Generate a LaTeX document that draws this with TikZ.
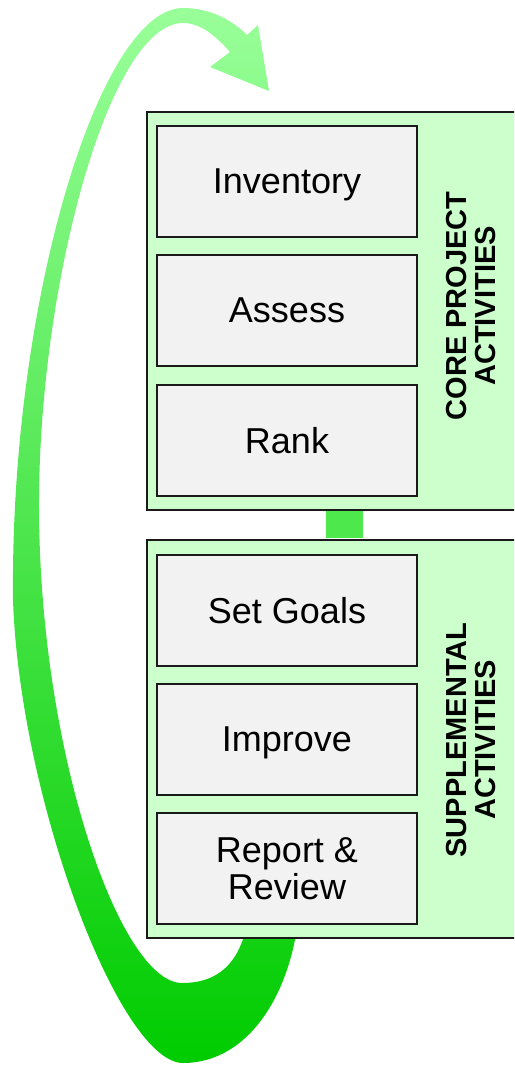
\documentclass[tikz,border=0pt]{standalone}
\usepackage{fontspec}
\setmainfont{Liberation Sans}
\definecolor{arrowtop}{HTML}{99FF99}
\definecolor{arrowbot}{HTML}{00CC00}
\definecolor{panelfill}{HTML}{CCFFCC}
\definecolor{boxfill}{HTML}{F2F2F2}
\definecolor{edge}{HTML}{1A1A1A}
\definecolor{linkgreen}{HTML}{4CE84C}
\tikzset{
  panel/.style={draw=edge, line width=1.6pt, fill=panelfill, inner sep=0pt,
    minimum width=384pt, minimum height=398pt, anchor=north west},
  stepbox/.style={draw=edge, line width=1.5pt, fill=boxfill, inner sep=0pt,
    minimum width=260pt, minimum height=111pt, align=center, text depth=0pt,
    font=\fontsize{36}{37}\selectfont},
  grouplabel/.style={rotate=90, align=center, inner sep=0pt,
    font=\fontsize{29}{29}\selectfont\bfseries},
  link/.style={draw=linkgreen, line width=37pt, shorten <=0.8pt, shorten >=0.8pt}
}
\begin{document}
\begin{tikzpicture}[x=1pt,y=-1pt]
\useasboundingbox (0,0) rectangle (514,1065);
\clip (0,0) rectangle (514,1065);
% curved return arrow
\shade[top color=arrowtop, bottom color=arrowbot]
  (300,900)
  .. controls (295,990) and (250,1063) .. (183,1063)
  .. controls (120,1063) and (20,800) .. (13,600)
  .. controls (10,300) and (100,8) .. (183,8)
  .. controls (210,8) and (232,20) .. (247,35)
  -- (258,25) -- (269,91) -- (210,67) -- (230,52)
  .. controls (215,35) and (200,23) .. (183,23)
  .. controls (110,23) and (40,280) .. (39,500)
  .. controls (38,750) and (120,983) .. (182,983)
  .. controls (225,983) and (245,955) .. (250,905)
  -- cycle;
% panels
\node[panel] (core) at (146,111) {};
\node[panel] (supp) at (146,539) {};
% steps
\node[stepbox] (inv) at (287,181.5) {Inventory};
\node[stepbox] (ass) at (287,310.5) {Assess};
\node[stepbox] (rank) at (287,440.5) {Rank};
\node[stepbox] (goals) at (287,610.5) {Set Goals};
\node[stepbox] (impr) at (287,739.5) {Improve};
\node[stepbox] (rep) at (287,868.5) {Report \&\\Review};
% group labels
\node[grouplabel] (corelbl) at (471,306) {CORE PROJECT\\ACTIVITIES};
\node[grouplabel] (supplbl) at (471,740) {SUPPLEMENTAL\\ACTIVITIES};
% link between panels
\draw[link] ([xshift=5.5pt]core.south) -- ([xshift=5.5pt]supp.north);
\end{tikzpicture}
\end{document}
